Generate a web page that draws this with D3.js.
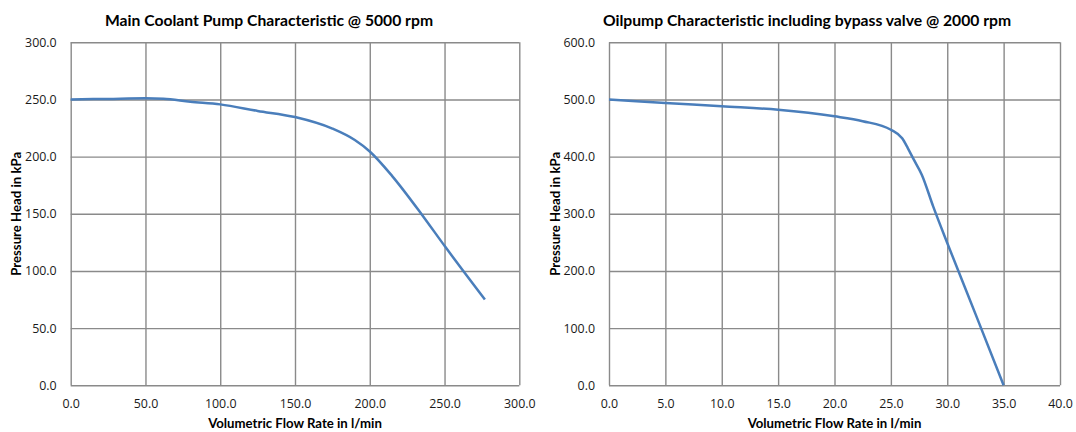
<!DOCTYPE html>
<html>
<head>
<meta charset="utf-8">
<script src="https://cdn.jsdelivr.net/npm/d3@7"></script>
<style>
  html, body { margin: 0; padding: 0; background: #fff; }
  svg { display: block; }
  .tick text { font-family: "Open Sans", "Liberation Sans", sans-serif; font-size: 12.4px; fill: #1a1a1a; }
  .title { font-family: "Lato", "Open Sans", sans-serif; font-weight: bold; font-size: 15.7px; fill: #000; }
  .axtitle { font-family: "Lato", "Open Sans", sans-serif; font-weight: bold; font-size: 13.2px; fill: #000; }
</style>
</head>
<body>
<svg id="chart" width="1076" height="432"></svg>
<script>
// ---- Data: Main coolant pump @ 5000 rpm ----
const coolantFlow = [0, 25, 50, 62, 80, 100, 125, 150, 175, 190, 200, 215, 235, 250, 277];
const coolantHead = [250, 250.5, 251, 250.6, 248, 245.7, 240, 234.6, 224.5, 214.5, 204.5, 183, 149, 122, 75];
const coolantXTicks = [0, 50, 100, 150, 200, 250, 300];
const coolantYTicks = [0, 50, 100, 150, 200, 250, 300];

// ---- Data: Oil pump incl. bypass valve @ 2000 rpm ----
const oilFlow = [0, 5, 10, 15, 20, 22.5, 25, 26, 26.5, 27, 27.75, 28.75, 30, 32.5, 35];
const oilHead = [500, 494, 488, 482, 470.5, 462, 447, 432, 415, 396, 368, 313, 249, 125, 0];
const oilXTicks = [0, 5, 10, 15, 20, 25, 30, 35, 40];
const oilYTicks = [0, 100, 200, 300, 400, 500, 600];

const titles = ["Main Coolant Pump Characteristic @ 5000 rpm", "Oilpump Characteristic including bypass valve @ 2000 rpm"];
const xTitle = "Volumetric Flow Rate in l/min";
const yTitle = "Pressure Head in kPa";

const svg = d3.select("#chart");
const fmt = d3.format(".1f");
const gridColor = "#8a8a8a";
const lineColor = "#4a7ebb";

function drawPanel(cfg) {
  const { left, right, top, bottom, flow, head, xTicks, yTicks, title, titleX, yTitleX } = cfg;
  const x = d3.scaleLinear().domain([xTicks[0], xTicks[xTicks.length - 1]]).range([left, right]);
  const y = d3.scaleLinear().domain([yTicks[0], yTicks[yTicks.length - 1]]).range([bottom, top]);
  const g = svg.append("g");

  // vertical gridlines
  g.append("g")
    .attr("transform", `translate(0,${bottom})`)
    .call(d3.axisBottom(x).tickValues(xTicks).tickSize(-(bottom - top)).tickFormat(""))
    .call(s => s.select(".domain").remove())
    .call(s => s.selectAll("line").attr("stroke", gridColor).attr("stroke-width", 1.4));
  // horizontal gridlines
  g.append("g")
    .attr("transform", `translate(${left},0)`)
    .call(d3.axisLeft(y).tickValues(yTicks).tickSize(-(right - left)).tickFormat(""))
    .call(s => s.select(".domain").remove())
    .call(s => s.selectAll("line").attr("stroke", gridColor).attr("stroke-width", 1.4));

  // x tick labels
  g.append("g")
    .attr("transform", `translate(0,${bottom})`)
    .call(d3.axisBottom(x).tickValues(xTicks).tickSize(0).tickPadding(14).tickFormat(fmt))
    .call(s => s.select(".domain").remove());
  // y tick labels
  g.append("g")
    .attr("transform", `translate(${left},0)`)
    .call(d3.axisLeft(y).tickValues(yTicks).tickSize(0).tickPadding(14).tickFormat(fmt))
    .call(s => s.select(".domain").remove());

  // curve
  const pts = flow.map((f, i) => [f, head[i]]);
  g.append("path")
    .datum(pts)
    .attr("fill", "none")
    .attr("stroke", lineColor)
    .attr("stroke-width", 2.5)
    .attr("stroke-linejoin", "round")
    .attr("d", d3.line().x(d => x(d[0])).y(d => y(d[1])).curve(d3.curveMonotoneX));

  // titles
  g.append("text").attr("class", "title").attr("x", titleX).attr("y", 26)
    .attr("text-anchor", "middle").text(title);
  g.append("text").attr("class", "axtitle").attr("x", (left + right) / 2).attr("y", 428)
    .attr("text-anchor", "middle").text(xTitle);
  g.append("text").attr("class", "axtitle")
    .attr("transform", `translate(${yTitleX},${(top + bottom) / 2}) rotate(-90)`)
    .attr("text-anchor", "middle").attr("dy", "0.35em").text(yTitle);
}

drawPanel({ left: 70.7, right: 519.3, top: 42.3, bottom: 385.3, flow: coolantFlow, head: coolantHead,
  xTicks: coolantXTicks, yTicks: coolantYTicks, title: titles[0], titleX: 269, yTitleX: 16 });
drawPanel({ left: 609, right: 1060, top: 42.3, bottom: 385.3, flow: oilFlow, head: oilHead,
  xTicks: oilXTicks, yTicks: oilYTicks, title: titles[1], titleX: 807, yTitleX: 555 });
</script>
</body>
</html>
